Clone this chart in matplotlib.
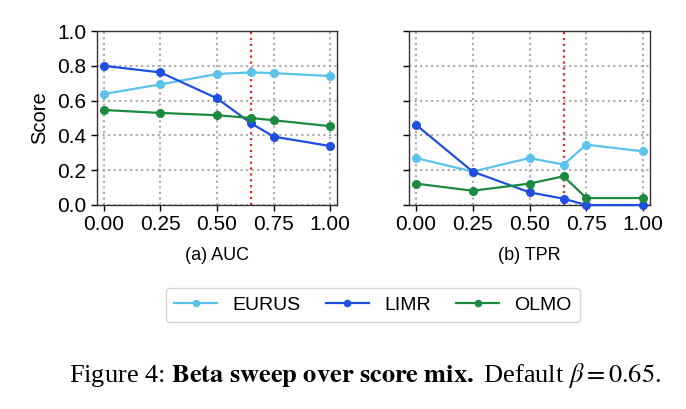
import matplotlib
matplotlib.use('Agg')
import matplotlib.pyplot as plt

plt.rcParams['font.family'] = ['Liberation Sans', 'DejaVu Sans']

# beta values
betas = [0.0, 0.25, 0.50, 0.65, 0.75, 1.0]
default_beta = 0.65

# AUC
auc_eurus = [0.638, 0.693, 0.753, 0.762, 0.758, 0.741]
auc_limr = [0.800, 0.762, 0.613, 0.470, 0.393, 0.339]
auc_olmo = [0.546, 0.529, 0.516, 0.500, 0.487, 0.453]

# TPR
tpr_eurus = [0.270, 0.192, 0.270, 0.232, 0.347, 0.308]
tpr_limr = [0.462, 0.192, 0.073, 0.036, 0.0, 0.0]
tpr_olmo = [0.123, 0.082, 0.123, 0.165, 0.040, 0.040]

models = ['EURUS', 'LIMR', 'OLMO']
colors = ['#5bc2ec', '#1f4fe0', '#1b8a3f']
xticks = [0.0, 0.25, 0.5, 0.75, 1.0]
yticks = [0.0, 0.2, 0.4, 0.6, 0.8, 1.0]

fig = plt.figure(figsize=(6.86, 4.09), dpi=100)
W, H = 686, 409
ax1 = fig.add_axes([97 / W, 1 - 205 / H, 240 / W, 174 / H])
ax2 = fig.add_axes([409 / W, 1 - 205 / H, 241 / W, 174 / H], sharey=ax1)

panels = [(ax1, [auc_eurus, auc_limr, auc_olmo], '(a) AUC'),
          (ax2, [tpr_eurus, tpr_limr, tpr_olmo], '(b) TPR')]

for ax, series, label in panels:
    for name, vals, c in zip(models, series, colors):
        ax.plot(betas, vals, color=c, marker='o', markersize=5.5,
                linewidth=1.6, label=name, clip_on=False, zorder=3)
    ax.axvline(default_beta, color='#e8262b', linestyle=':', linewidth=1.6, zorder=2)
    ax.grid(True, linestyle=':', color='#aaaaaa', linewidth=1.5)
    ax.set_xlim(-0.03, 1.03)
    ax.set_ylim(0, 1.0)
    ax.set_xticks(xticks)
    ax.set_xticklabels(['0.00', '0.25', '0.50', '0.75', '1.00'])
    ax.set_yticks(yticks)
    ax.tick_params(labelsize=15, length=4, width=1)
    ax.set_xlabel(label, fontsize=13, labelpad=9)
    for s in ax.spines.values():
        s.set_linewidth(1.0)
        s.set_color('#333333')

ax1.set_ylabel('Score', fontsize=14.5, labelpad=6)
ax2.tick_params(labelleft=False)

h, l = ax1.get_legend_handles_labels()
fig.legend(h, l, loc='center', bbox_to_anchor=(373 / W, 1 - 305 / H), ncol=3,
           fontsize=14, frameon=True, handlelength=2.2, handletextpad=0.8,
           columnspacing=1.3, markerscale=0.8, borderpad=0.4)

fig.text(365 / W, 1 - 375 / H,
         r'Figure 4: $\bf{Beta\ sweep\ over\ score\ mix.}$ Default $\beta = 0.65$.',
         ha='center', va='center', fontsize=19, family='Liberation Serif',
         math_fontfamily='stix')

fig.savefig('out.png', dpi=100)
